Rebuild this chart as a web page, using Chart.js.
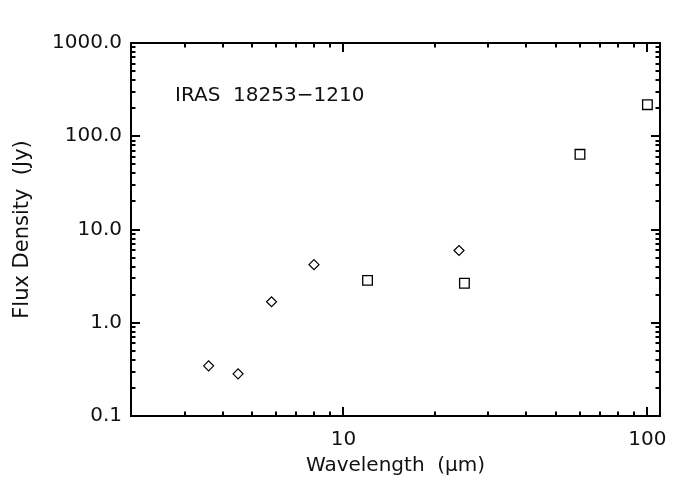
<!DOCTYPE html>
<html>
<head>
<meta charset="utf-8">
<script src="https://cdn.jsdelivr.net/npm/chart.js@4/dist/chart.umd.min.js"></script>
<style>
  html, body { margin: 0; padding: 0; background: #fff; }
  #wrap { width: 700px; height: 500px; }
</style>
</head>
<body>
<div id="wrap"><canvas id="sed"></canvas></div>
<script>
// photometry (wavelength in micron, flux in Jy)
const diamondWave = [3.6, 4.5, 5.8, 8.0, 24];
const diamondFlux = [0.345, 0.283, 1.68, 4.2, 5.95];
const squareWave  = [12, 25, 60, 100];
const squareFlux  = [2.85, 2.65, 64, 218];

const xLabelTicks = [10, 100];
const yLabelTicks = [0.1, 1, 10, 100, 1000];
const xMinorTicks = [3, 4, 5, 6, 7, 8, 9, 20, 30, 40, 50, 60, 70, 80, 90];
const yMinorTicks = [];
[0.1, 1, 10, 100].forEach(d => { for (let k = 2; k <= 9; k++) yMinorTicks.push(d * k); });

const FONT = "'DejaVu Sans', sans-serif";

// IDL-style frame with inward ticks on all four sides
const frameTicks = {
  id: 'frameTicks',
  afterDraw(chart) {
    const { ctx, chartArea: a, scales: { x, y } } = chart;
    ctx.save();
    ctx.strokeStyle = '#000';
    ctx.lineWidth = 2;
    ctx.strokeRect(a.left, a.top, a.right - a.left, a.bottom - a.top);
    const tick = (x1, y1, x2, y2) => { ctx.beginPath(); ctx.moveTo(x1, y1); ctx.lineTo(x2, y2); ctx.stroke(); };
    const xt = (v, len) => {
      const px = Math.round(x.getPixelForValue(v));
      tick(px, a.bottom, px, a.bottom - len);
      tick(px, a.top, px, a.top + len);
    };
    const yt = (v, len) => {
      const py = Math.round(y.getPixelForValue(v));
      tick(a.left, py, a.left + len, py);
      tick(a.right, py, a.right - len, py);
    };
    xLabelTicks.forEach(v => xt(v, 9));
    xMinorTicks.forEach(v => xt(v, 4.5));
    yLabelTicks.forEach(v => yt(v, 9));
    yMinorTicks.forEach(v => yt(v, 4.5));

    ctx.fillStyle = '#111';
    ctx.font = '20px ' + FONT;
    ctx.textBaseline = 'middle';
    ctx.fillText('IRAS  18253\u22121210', 175, 96);
    ctx.restore();
  }
};

new Chart(document.getElementById('sed'), {
  type: 'scatter',
  data: {
    datasets: [
      {
        label: 'diamonds',
        data: diamondWave.map((w, i) => ({ x: w, y: diamondFlux[i] })),
        pointStyle: 'rectRot',
        pointRadius: 5,
        borderColor: '#000',
        backgroundColor: 'rgba(0,0,0,0)',
        borderWidth: 1.2
      },
      {
        label: 'squares',
        data: squareWave.map((w, i) => ({ x: w, y: squareFlux[i] })),
        pointStyle: 'rect',
        pointRadius: 6.8,
        borderColor: '#000',
        backgroundColor: 'rgba(0,0,0,0)',
        borderWidth: 1.3
      }
    ]
  },
  options: {
    responsive: true,
    maintainAspectRatio: false,
    animation: false,
    layout: { padding: { top: 43, right: 40, left: 0, bottom: 0 } },
    plugins: { legend: { display: false }, tooltip: { enabled: false } },
    scales: {
      x: {
        type: 'logarithmic',
        min: 2,
        max: 110,
        grid: { display: false, drawTicks: false },
        border: { display: false },
        afterBuildTicks: s => { s.ticks = xLabelTicks.map(v => ({ value: v })); },
        afterFit: s => { s.height = 84; },
        ticks: {
          color: '#111',
          padding: 12,
          font: { family: FONT, size: 20 },
          maxRotation: 0,
          callback: v => String(v)
        },
        title: {
          display: true,
          text: 'Wavelength  (\u03bcm)',
          color: '#111',
          font: { family: FONT, size: 20 },
          padding: { top: 0, bottom: 22 }
        }
      },
      y: {
        type: 'logarithmic',
        min: 0.1,
        max: 1000,
        grid: { display: false, drawTicks: false },
        border: { display: false },
        afterBuildTicks: s => { s.ticks = yLabelTicks.map(v => ({ value: v })); },
        afterFit: s => { s.width = 131; },
        ticks: {
          color: '#111',
          padding: 9,
          font: { family: FONT, size: 20 },
          callback: v => v.toFixed(1)
        },
        title: {
          display: true,
          text: 'Flux Density  (Jy)',
          color: '#111',
          font: { family: FONT, size: 21 },
          padding: { top: 10, bottom: 0 }
        }
      }
    }
  },
  plugins: [frameTicks]
});
</script>
</body>
</html>
